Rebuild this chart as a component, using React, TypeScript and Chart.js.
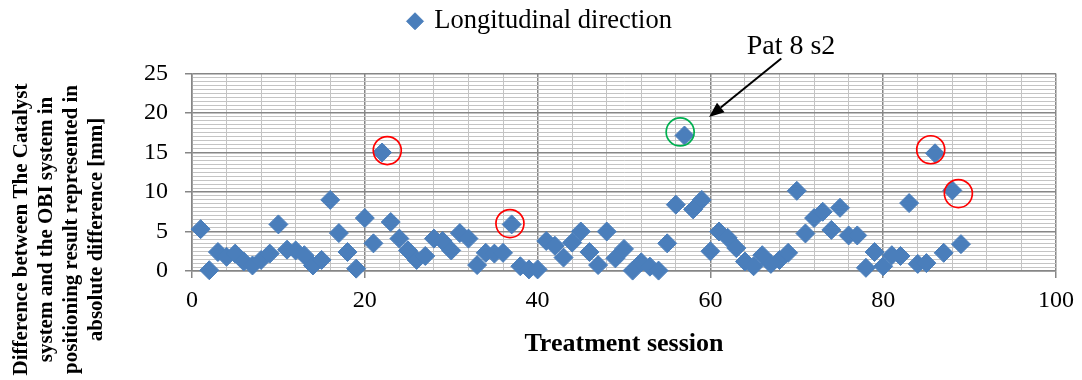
import React, { useEffect, useRef } from 'react';
import { Chart, registerables } from 'chart.js';

Chart.register(...registerables);

// ---------- data ----------
const SESSIONS = [
  1, 2, 3, 4, 5, 6, 7, 8, 9, 10, 11, 12, 13, 14, 15, 16, 17, 18, 19, 20,
  21, 22, 23, 24, 25, 26, 27, 28, 29, 30, 31, 32, 33, 34, 35, 36, 37, 38, 39, 40,
  41, 42, 43, 44, 45, 46, 47, 48, 49, 50, 51, 52, 53, 54, 55, 56, 57, 58, 59, 60,
  61, 62, 63, 64, 65, 66, 67, 68, 69, 70, 71, 72, 73, 74, 75, 76, 77, 78, 79, 80,
  81, 82, 83, 84, 85, 86, 87, 88, 89,
];
const DIFF_MM = [
  5.3, 0.1, 2.4, 1.8, 2.2, 1.2, 0.7, 1.4, 2.2, 5.9,
  2.7, 2.6, 2.0, 0.7, 1.4, 9.0, 4.8, 2.4, 0.3, 6.7,
  3.5, 15.0, 6.2, 4.1, 2.6, 1.4, 1.9, 4.1, 3.8, 2.6,
  4.8, 4.1, 0.75, 2.3, 2.2, 2.3, 5.9, 0.6, 0.2, 0.2,
  3.8, 3.2, 1.7, 3.6, 5.0, 2.4, 0.75, 5.0, 1.6, 2.8,
  0.05, 1.1, 0.55, 0.05, 3.5, 8.4, 17.15, 7.8, 9.0, 2.5,
  5.0, 4.2, 2.9, 1.2, 0.6, 2.0, 0.9, 1.4, 2.3, 10.15,
  4.75, 6.7, 7.5, 5.2, 8.0, 4.5, 4.5, 0.4, 2.4, 0.6,
  2.0, 1.9, 8.6, 0.9, 1.0, 14.9, 2.3, 10.2, 3.4,
];
const X_TICKS = [0, 20, 40, 60, 80, 100];
const Y_TICKS = [0, 5, 10, 15, 20, 25];
const SERIES_LABEL = 'Longitudinal direction';
const X_TITLE = 'Treatment session';
const Y_TITLE_LINES = [
  'Difference between The Catalyst',
  'system and the OBI system in',
  'positioning result represented in',
  'absolute difference [mm]',
];
const RED_CIRCLES = [
  { x: 22.6, y: 15.25 },
  { x: 36.8, y: 6.0 },
  { x: 85.5, y: 15.35 },
  { x: 88.7, y: 9.8 },
];
const GREEN_CIRCLES = [{ x: 56.5, y: 17.6 }];
const NOTE_TEXT = 'Pat 8 s2';
const NOTE_AT = { x: 64.2, y: 27.5 };
const ARROW_FROM = { x: 68.2, y: 26.9 };
const ARROW_TO = { x: 59.85, y: 19.5 };

// ---------- styles ----------
const FONT = "'Liberation Serif', 'Times New Roman', serif";
const BLUE = '#4a7ebb';
const MAJOR = '#868686';
const MINOR = '#c4c4c4';

const annotate = {
  id: 'annotate',
  afterDatasetsDraw(chart: any) {
    const { ctx } = chart;
    const xs = chart.scales.x;
    const ys = chart.scales.y;
    const px = (p: { x: number; y: number }) => [xs.getPixelForValue(p.x), ys.getPixelForValue(p.y)];
    ctx.save();
    // circles
    const drawCircle = (p: any, color: string) => {
      const [cx, cy] = px(p);
      ctx.beginPath();
      ctx.arc(cx, cy, 14, 0, Math.PI * 2);
      ctx.strokeStyle = color;
      ctx.lineWidth = 1.7;
      ctx.stroke();
    };
    RED_CIRCLES.forEach((p) => drawCircle(p, '#ff0000'));
    GREEN_CIRCLES.forEach((p) => drawCircle(p, '#00b050'));
    // arrow
    const [x1, y1] = px(ARROW_FROM);
    const [x2, y2] = px(ARROW_TO);
    const ang = Math.atan2(y2 - y1, x2 - x1);
    const headLen = 15;
    const headHalf = 6;
    const bx = x2 - headLen * Math.cos(ang);
    const by = y2 - headLen * Math.sin(ang);
    ctx.strokeStyle = '#000';
    ctx.lineWidth = 2;
    ctx.beginPath();
    ctx.moveTo(x1, y1);
    ctx.lineTo(bx, by);
    ctx.stroke();
    ctx.beginPath();
    ctx.moveTo(x2, y2);
    ctx.lineTo(bx + headHalf * Math.sin(ang), by - headHalf * Math.cos(ang));
    ctx.lineTo(bx - headHalf * Math.sin(ang), by + headHalf * Math.cos(ang));
    ctx.closePath();
    ctx.fillStyle = '#000';
    ctx.fill();
    // note text
    const [nx, ny] = px(NOTE_AT);
    ctx.font = `28px ${FONT}`;
    ctx.textAlign = 'left';
    ctx.textBaseline = 'alphabetic';
    ctx.fillText(NOTE_TEXT, nx, ny);
    // y-axis title (multi-line, rotated)
    ctx.font = `bold 21px ${FONT}`;
    ctx.textAlign = 'center';
    ctx.textBaseline = 'middle';
    Y_TITLE_LINES.forEach((line, i) => {
      ctx.save();
      ctx.translate(21.7 + 25 * i, 229.5);
      ctx.rotate(-Math.PI / 2);
      ctx.fillText(line, 0, 0);
      ctx.restore();
    });
    ctx.restore();
  },
};

export default function App() {
  const ref = useRef<HTMLCanvasElement | null>(null);

  useEffect(() => {
    if (!ref.current) return;
    const chart = new Chart(ref.current, {
      type: 'scatter',
      data: {
        datasets: [
          {
            label: SERIES_LABEL,
            data: SESSIONS.map((s, i) => ({ x: s, y: DIFF_MM[i] })),
            xAxisID: 'x',
            yAxisID: 'y',
            backgroundColor: BLUE,
            borderColor: BLUE,
            borderWidth: 1,
            pointStyle: 'rectRot',
            pointRadius: 9.5,
            pointHoverRadius: 9.5,
            showLine: false,
            clip: false,
          } as any,
        ],
      },
      options: {
        animation: false,
        responsive: true,
        maintainAspectRatio: false,
        layout: { padding: { top: 0, left: 23, right: 24, bottom: 0 } },
        plugins: {
          tooltip: { enabled: false },
          legend: {
            display: true,
            position: 'top',
            labels: {
              usePointStyle: true,
              pointStyle: 'rectRot',
              boxWidth: 12,
              boxHeight: 12,
              padding: 8,
              color: '#000',
              font: { family: FONT, size: 26.5 },
            },
          },
        },
        scales: {
          x: {
            type: 'linear',
            position: 'bottom',
            min: 0,
            max: 100,
            ticks: {
              stepSize: 4,
              autoSkip: false,
              maxRotation: 0,
              padding: 8,
              color: '#000',
              font: { family: FONT, size: 24 },
              callback: (v: any) => (X_TICKS.includes(Number(v)) ? String(v) : ''),
            },
            grid: {
              color: (c: any) => (c.tick && X_TICKS.includes(c.tick.value) ? MAJOR : MINOR),
              lineWidth: (c: any) => (c.tick && X_TICKS.includes(c.tick.value) ? 1.5 : 1),
              tickLength: 7,
              tickColor: (c: any) => (c.tick && X_TICKS.includes(c.tick.value) ? MAJOR : 'rgba(0,0,0,0)'),
            },
            border: { color: MAJOR, width: 1.5 },
            title: {
              display: true,
              text: X_TITLE,
              color: '#000',
              font: { family: FONT, size: 26, weight: 'bold' },
              padding: { top: 0, bottom: 20 },
            },
            afterFit: (s: any) => {
              s.height = 109;
            },
          },
          y: {
            type: 'linear',
            position: 'left',
            min: 0,
            max: 25,
            ticks: {
              stepSize: 0.5,
              autoSkip: false,
              padding: 17,
              color: '#000',
              font: { family: FONT, size: 24 },
              callback: (v: any) => (Y_TICKS.includes(Number(v)) ? String(v) : ''),
            },
            grid: {
              color: (c: any) => (c.tick && Y_TICKS.includes(c.tick.value) ? MAJOR : MINOR),
              lineWidth: (c: any) => (c.tick && Y_TICKS.includes(c.tick.value) ? 1.5 : 1),
              tickLength: 7,
              tickColor: (c: any) => (c.tick && Y_TICKS.includes(c.tick.value) ? MAJOR : 'rgba(0,0,0,0)'),
            },
            border: { color: MAJOR, width: 1.5 },
            title: { display: false },
            afterFit: (s: any) => {
              s.width = 169;
            },
          },
          spacer: {
            axis: 'x',
            type: 'linear',
            position: 'top',
            display: true,
            grid: { display: false, drawTicks: false },
            border: { display: false },
            ticks: { display: false },
            afterFit: (s: any) => {
              s.height = 29;
            },
          },
        },
      } as any,
      plugins: [annotate],
    });
    return () => chart.destroy();
  }, []);

  return (
    <div style={{ position: 'fixed', left: 0, top: 0, width: 1082, height: 380, background: '#fff' }}>
      <canvas ref={ref} />
    </div>
  );
}
